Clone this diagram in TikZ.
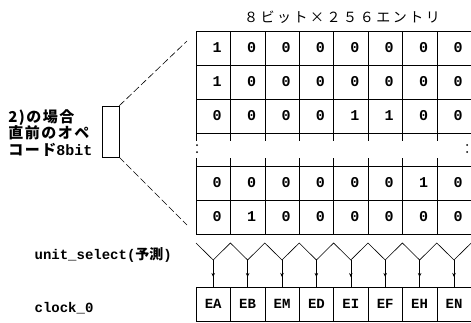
\documentclass[tikz,border=0pt]{standalone}
\usepackage{fontspec}
\setmonofont{Liberation Mono}
\newfontfamily\jp{Noto Sans CJK JP}
\newfontfamily\jphdr[LetterSpace=18]{Noto Sans CJK JP}
\newfontfamily\jpleft[LetterSpace=10]{Noto Sans CJK JP}
\usetikzlibrary{arrows.meta,positioning}

\begin{document}
\begin{tikzpicture}[x=1pt,y=-1pt,line width=0.6pt,
  bit/.style={font=\ttfamily\bfseries\fontsize{15}{15}\selectfont,xshift=4pt},
  unit box/.style={draw,minimum width=34.4pt,minimum height=34pt,inner sep=0pt,
    font=\ttfamily\bfseries\fontsize{14}{14}\selectfont},
  sig/.style={anchor=west,font=\ttfamily\bfseries\fontsize{14}{14}\selectfont},
  dashline/.style={dash pattern=on 7pt off 3pt}]
  \useasboundingbox (0,0) rectangle (471,322);
  \node (hdr) at (342,17) {\jphdr\fontsize{14}{14}\selectfont ８ビット×２５６エントリ};
  % table
  \foreach \y in {31,65,99,133,166,200,234}
    \draw (196,\y) -- (472,\y);
  \foreach \i in {0,...,8}{
    \draw (196+34.4*\i,31) -- (196+34.4*\i,141);
    \draw (196+34.4*\i,158) -- (196+34.4*\i,234);
  }
  \foreach \x in {197,467}{
    \fill (\x,145) circle (1pt);
    \fill (\x,152) circle (1pt);
  }
  \foreach \r/\y/\bits in {1/48/{1,0,0,0,0,0,0,0},2/82/{1,0,0,0,0,0,0,0},
      3/116/{0,0,0,0,1,1,0,0},5/183/{0,0,0,0,0,0,1,0},6/217/{0,1,0,0,0,0,0,0}}
    \foreach \b [count=\c] in \bits
      \node[bit] (c\r-\c) at (178.8+34.4*\c,\y) {\b};
  % unit select
  \foreach \lab [count=\c] in {EA,EB,EM,ED,EI,EF,EH,EN}
    \node[unit box] (u\c) at (178.8+34.4*\c,304) {\lab};
  \draw (196,243) \foreach \c in {1,...,8}{ -- (178.8+34.4*\c,260) -- (196+34.4*\c,243)};
  \foreach \c in {1,...,8}{
    \coordinate (v\c) at (178.8+34.4*\c,260);
    \draw[-{Stealth[length=4pt,width=3.5pt]}] (v\c) -- ++(0,17);
    \draw (v\c) -- (u\c.north);
  }
  % opcode
  \node[draw,minimum width=17pt,minimum height=51pt,inner sep=0pt] (opbox) at (110.5,131.5) {};
  \coordinate (tt) at (187,41);
  \coordinate (tb) at (187,225);
  \draw[dashline] (opbox.north east) -- (tt);
  \draw[dashline] (opbox.south east) -- (tb);
  \node[anchor=west,align=left,inner sep=0pt,font=\jpleft\bfseries\fontsize{15}{16.5}\selectfont]
    (optext) at (8,133) {2)の場合\\直前のオペ\\コード{\ttfamily 8bit}};
  \node[sig] (usel) at (31,255) {unit\_select({\jp\bfseries 予測})};
  \node[sig] (clk) at (31,308) {clock\_0};
\end{tikzpicture}
\end{document}
